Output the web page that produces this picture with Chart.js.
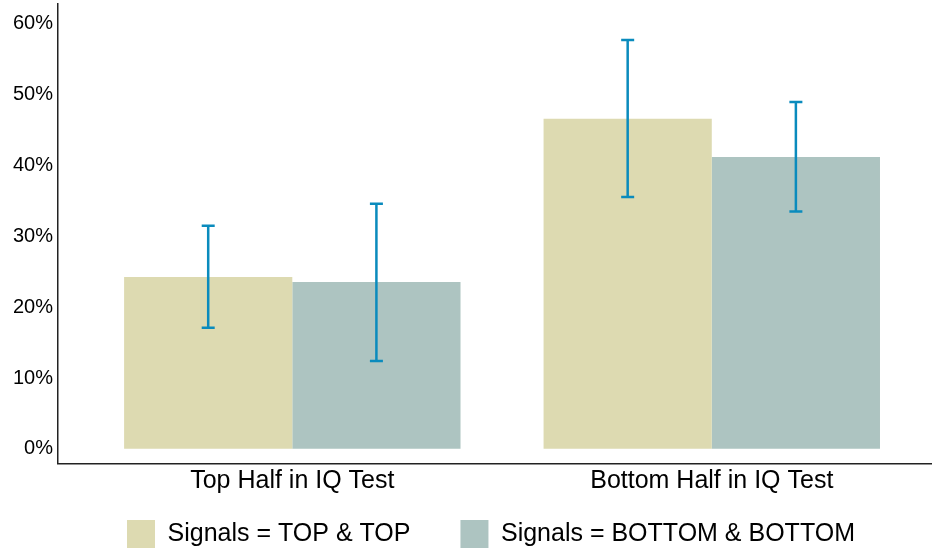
<!DOCTYPE html>
<html>
<head>
<meta charset="utf-8">
<script src="https://cdn.jsdelivr.net/npm/chart.js@4.4.1/dist/chart.umd.min.js"></script>
<style>
  html, body { margin: 0; padding: 0; background: #fff; }
  #wrap { width: 932px; height: 551px; }
</style>
</head>
<body>
<div id="wrap"><canvas id="myChart"></canvas></div>
<script>
const categories = ['Top Half in IQ Test', 'Bottom Half in IQ Test']
const seriesNames = ['Signals = TOP & TOP', 'Signals = BOTTOM & BOTTOM']
const topTop = [24.25, 46.6]
const bottomBottom = [23.55, 41.2]
const topTopLow = [17.1, 35.55]
const topTopHigh = [31.5, 57.7]
const bottomBottomLow = [12.4, 33.5]
const bottomBottomHigh = [34.6, 48.95]
const yTicks = [0, 10, 20, 30, 40, 50, 60]

const errLow = [topTopLow, bottomBottomLow]
const errHigh = [topTopHigh, bottomBottomHigh]

Chart.defaults.font.family = '"Liberation Sans", Arial, Helvetica, sans-serif'
Chart.defaults.color = '#000'

// whiskers on top of each bar
const errorBars = {
  id: 'errorBars',
  afterDatasetsDraw(chart) {
    const ctx = chart.ctx
    const y = chart.scales.y
    ctx.save()
    ctx.strokeStyle = '#0a8bbd'
    ctx.lineWidth = 2.5
    chart.data.datasets.forEach((ds, i) => {
      const meta = chart.getDatasetMeta(i)
      meta.data.forEach((bar, j) => {
        const lo = y.getPixelForValue(errLow[i][j])
        const hi = y.getPixelForValue(errHigh[i][j])
        ctx.beginPath()
        ctx.moveTo(bar.x, lo); ctx.lineTo(bar.x, hi)
        ctx.moveTo(bar.x - 6.5, lo); ctx.lineTo(bar.x + 6.5, lo)
        ctx.moveTo(bar.x - 6.5, hi); ctx.lineTo(bar.x + 6.5, hi)
        ctx.stroke()
      })
    })
    ctx.restore()
  }
}

const chart = document.getElementById('myChart')

new Chart(chart, {
  type: 'bar',
  data: {
    datasets: [{
      label: seriesNames[0],
      data: topTop.map((v, i) => ({ x: i, y: v })),
      backgroundColor: '#dddab1',
      borderWidth: 0
    }, {
      label: seriesNames[1],
      data: bottomBottom.map((v, i) => ({ x: i, y: v })),
      backgroundColor: '#adc4c1',
      borderWidth: 0
    }]
  },
  options: {
    responsive: true,
    maintainAspectRatio: false,
    animation: false,
    categoryPercentage: 0.802,
    barPercentage: 1,
    // legend sits a bit right of centre, hence the uneven side padding
    layout: { padding: { top: 4, left: 8, right: -42, bottom: -7 } },
    plugins: {
      tooltip: { enabled: false },
      legend: {
        position: 'bottom',
        labels: {
          boxWidth: 28,
          boxHeight: 28,
          padding: 50,
          font: { size: 25 }
        }
      }
    },
    scales: {
      x: {
        type: 'linear',
        offset: false,
        min: -0.5585,
        max: 1.525,
        grid: { display: false, drawTicks: false },
        border: { display: true, color: '#222', width: 1.5 },
        afterBuildTicks: s => { s.ticks = categories.map((c, i) => ({ value: i })) },
        afterFit: s => { s.height = 6.3 },
        ticks: {
          mirror: true,
          padding: -32,
          maxRotation: 0,
          font: { size: 25 },
          callback: v => categories[v]
        }
      },
      y: {
        min: -2.1,
        max: 62.8,
        grid: { display: false, drawTicks: false },
        border: { display: true, color: '#222', width: 1.5 },
        afterBuildTicks: s => { s.ticks = yTicks.map(v => ({ value: v })) },
        afterFit: s => { s.paddingTop = 0; s.paddingBottom = 0 },
        ticks: {
          padding: 5,
          font: { size: 20 },
          callback: v => v + '%'
        }
      }
    }
  },
  plugins: [errorBars]
})
</script>
</body>
</html>
